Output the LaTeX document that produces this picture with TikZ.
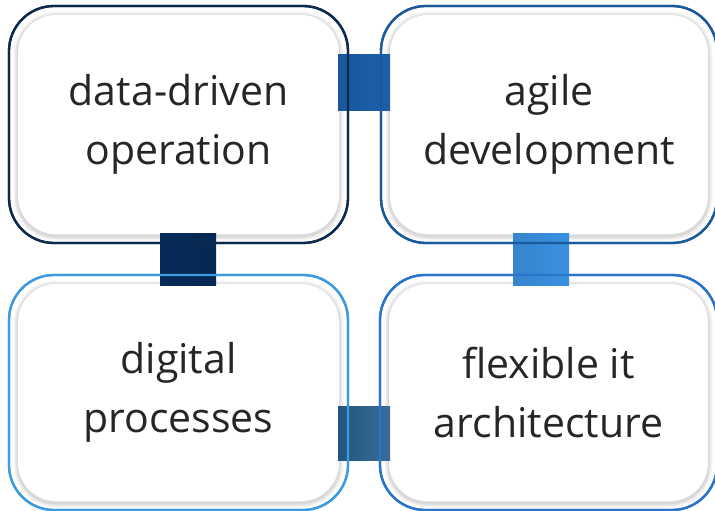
\documentclass[tikz,border=0pt]{standalone}
\usepackage{fontspec}
\setmainfont{Open Sans}
\usetikzlibrary{calc}
\pgfdeclarelayer{bg}
\pgfsetlayers{bg,main}
\definecolor{bcA}{HTML}{0C2A4E}
\definecolor{bcB}{HTML}{1B5A9A}
\definecolor{bcC}{HTML}{3D9BE0}
\definecolor{bcD}{HTML}{2B74CC}
\definecolor{cnAB}{HTML}{1C5FAA}
\definecolor{cnAC}{HTML}{062B59}
\definecolor{cnBD}{HTML}{3A90E0}
\definecolor{cnCD}{HTML}{28618F}
\definecolor{txt}{HTML}{262626}
\tikzset{
  box/.style={rectangle, rounded corners=45pt, line width=2.3pt, outer sep=0pt,
    align=center, text=txt, font=\fontsize{41}{59}\selectfont},
  rim/.style={line width=2.3pt, rounded corners=45pt},
  conn/.style={draw=none},
}
\newcommand{\panel}[1]{%
  \begin{pgfonlayer}{bg}
    \foreach \w/\o in {9/0.035,6/0.05,3/0.07}{
      \draw[line width=\w pt, black, opacity=\o, rounded corners=38pt]
        ($(#1.south west)+(9,-7)$) rectangle ($(#1.north east)+(-9,10)$);
    }
    \fill[white, rounded corners=38pt]
      ($(#1.south west)+(9,-9)$) rectangle ($(#1.north east)+(-9,9)$);
  \end{pgfonlayer}}
\begin{document}
\begin{tikzpicture}[x=1pt,y=-1pt]
\useasboundingbox (0,0) rectangle (715,511);
\node[box, draw=bcA, minimum width=339pt, minimum height=237pt] (b1) at (178.5,124.5) {data-driven\\operation};
\node[box, draw=bcB, minimum width=336pt, minimum height=237pt] (b2) at (549,124.5) {agile\\development};
\node[box, draw=bcC, minimum width=339pt, minimum height=235pt] (b3) at (178.5,392.5) {digital\\processes};
\node[box, draw=bcD, minimum width=337pt, minimum height=235pt] (b4) at (548.5,392.5) {flexible it\\architecture};
\panel{b1}\panel{b2}\panel{b3}\panel{b4}
% connectors
\shade[conn, left color=cnAB!92!black, right color=cnAB] ([xshift=-10pt]b1.east |- 0,55) rectangle ([xshift=9pt]b2.west |- 0,110);
\shade[conn, left color=cnAC, right color=cnAC!92!black] ([yshift=10pt]b1.south -| 160,0) rectangle ([yshift=-10pt]b3.north -| 216,0);
\shade[conn, left color=cnBD!92!black, right color=cnBD] ([yshift=10pt]b2.south -| 513,0) rectangle ([yshift=-10pt]b4.north -| 569,0);
\shade[conn, left color=cnCD!88!black, right color=cnCD!92!white] ([xshift=-10pt]b3.east |- 0,406) rectangle ([xshift=10pt]b4.west |- 0,460);
% rims over connectors
\draw[rim, bcA] (b1.south west) rectangle (b1.north east);
\draw[rim, bcB] (b2.south west) rectangle (b2.north east);
\draw[rim, bcC] (b3.south west) rectangle (b3.north east);
\draw[rim, bcD] (b4.south west) rectangle (b4.north east);
\end{tikzpicture}
\end{document}
